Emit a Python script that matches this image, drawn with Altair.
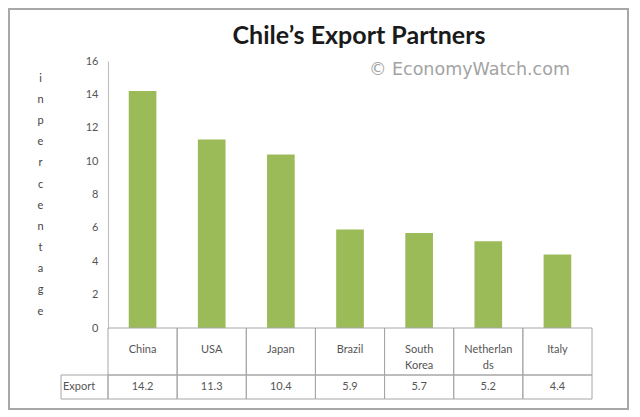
import altair as alt
import pandas as pd

countries = ["China", "USA", "Japan", "Brazil", "South Korea", "Netherlands", "Italy"]
cat_labels = ["China", "USA", "Japan", "Brazil", "South\nKorea", "Netherlan\nds", "Italy"]
values = [14.2, 11.3, 10.4, 5.9, 5.7, 5.2, 4.4]
value_labels = ["14.2", "11.3", "10.4", "5.9", "5.7", "5.2", "4.4"]
y_ticks = [0, 2, 4, 6, 8, 10, 12, 14, 16]
y_title_letters = ["i", "n", "", "p", "e", "r", "c", "e", "n", "t", "a", "g", "e"]
chart_title = "Chile’s Export Partners"
watermark_text = "© EconomyWatch.com"

df = pd.DataFrame({"country": countries, "label": cat_labels,
                   "value": values, "vlabel": value_labels})
one = pd.DataFrame({"a": [0]})

FONT = "Lato"
GREEN = "#9BBB59"
GRID = "#a6a6a6"
TXT = "#555555"

xs = alt.X("country:N", sort=countries,
           scale=alt.Scale(paddingInner=0, paddingOuter=0), axis=None)

base = alt.Chart(df)

bars = base.mark_bar(color=GREEN, width={"band": 0.4}).encode(
    x=xs,
    y=alt.Y("value:Q", scale=alt.Scale(domain=[0, 16], nice=False),
            axis=alt.Axis(values=y_ticks, grid=False, ticks=False,
                          domainColor="#bbbbbb", labelFont=FONT,
                          labelFontSize=11, labelColor=TXT, labelPadding=10,
                          title=y_title_letters, titleAngle=0, titleX=-68,
                          titleY=11, titleBaseline="top", titleAlign="center",
                          titleLineHeight=21.2, titleFont=FONT,
                          titleFontSize=11, titleFontWeight="normal",
                          titleColor="#444444")),
)

cat_cells = base.mark_rect(fill="transparent", stroke=GRID, strokeWidth=1).encode(
    x=xs, y=alt.value(267), y2=alt.value(314))
exp_cells = base.mark_rect(fill="transparent", stroke=GRID, strokeWidth=1).encode(
    x=xs, y=alt.value(314), y2=alt.value(338))
exp_head = alt.Chart(one).mark_rect(fill="transparent", stroke=GRID, strokeWidth=1).encode(
    x=alt.value(-47), x2=alt.value(0), y=alt.value(314), y2=alt.value(338))

cat_text = base.mark_text(font=FONT, fontSize=11, color=TXT, lineBreak="\n",
                          lineHeight=16, baseline="middle").encode(
    x=xs, y=alt.value(289), text="label:N")
val_text = base.mark_text(font=FONT, fontSize=11, color=TXT,
                          baseline="middle").encode(
    x=xs, y=alt.value(326), text="vlabel:N")
exp_text = alt.Chart(one).mark_text(font=FONT, fontSize=11, color=TXT,
                                    align="left", baseline="middle",
                                    text="Export").encode(
    x=alt.value(-45), y=alt.value(326))

watermark = alt.Chart(one).mark_text(font="DejaVu Sans", fontSize=17.5,
                                     color="#a3a3a3", align="right",
                                     baseline="middle",
                                     text=watermark_text).encode(
    x=alt.value(462), y=alt.value(9))

title = alt.Chart(one).mark_text(font=FONT, fontSize=25, fontWeight="bold",
                                 color="#1a1a1a", align="center",
                                 baseline="alphabetic",
                                 text=chart_title).encode(
    x=alt.value(251), y=alt.value(-17))

border = alt.Chart(one).mark_rect(fill="transparent", stroke="#a8a8a8",
                                  strokeWidth=2).encode(
    x=alt.value(-99), x2=alt.value(520), y=alt.value(-52), y2=alt.value(348))

chart = alt.layer(
    border, bars, cat_cells, exp_cells, exp_head, cat_text, val_text,
    exp_text, watermark, title
).properties(
    width=484, height=267, autosize="none", background="white",
    padding={"left": 100, "top": 53, "right": 37, "bottom": 83},
).configure_view(strokeWidth=0)

chart.save("out.html", embed_options={"renderer": "svg", "actions": False})
